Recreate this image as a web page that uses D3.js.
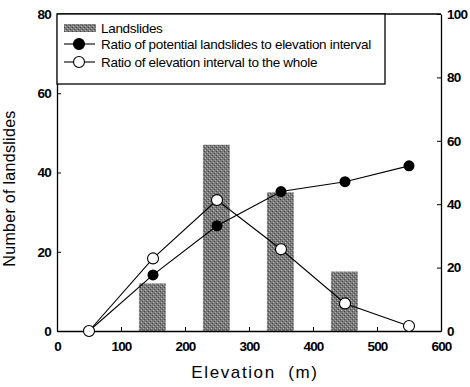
<!DOCTYPE html>
<html>
<head>
<meta charset="utf-8">
<script src="https://cdn.jsdelivr.net/npm/d3@7"></script>
<style>
	body { margin: 0; background: #fff; }
	text { font-family: "Liberation Sans", Arial, sans-serif; }
	.tick text { font-size: 13.5px; font-weight: bold; letter-spacing: -0.8px; }
</style>
</head>
<body>
<script>
const elevations = [150, 250, 350, 450]
const landslides = [12, 47, 35, 15]

const ratioX = [50, 150, 250, 350, 450, 550]
const ratioPotential = [0, 17.7, 33.2, 44, 47.1, 52.1]
const ratioElevation = [0, 22.9, 41.3, 25.8, 8.7, 1.6]

const xTicks = [0, 100, 200, 300, 400, 500, 600]
const leftTicks = [0, 20, 40, 60, 80]
const rightTicks = [0, 20, 40, 60, 80, 100]

const legendLabels = [
	'Landslides',
	'Ratio of potential landslides to elevation interval',
	'Ratio of elevation interval to the whole'
]

const margin = {top: 14, right: 29, bottom: 56, left: 57}
const W = 470, H = 387
const width = W - margin.left - margin.right
const height = H - margin.top - margin.bottom

const root = d3.select('body').append('svg')
	.attr('width', W)
	.attr('height', H)

// grainy grey fill like the printed bars
const defs = root.append('defs')
const pat = defs.append('pattern')
	.attr('id', 'dots')
	.attr('width', 4).attr('height', 4)
	.attr('patternUnits', 'userSpaceOnUse')
pat.append('rect').attr('width', 4).attr('height', 4).attr('fill', '#7a7a7a')
pat.append('rect').attr('x', 0).attr('y', 0).attr('width', 1).attr('height', 1).attr('fill', '#bdbdbd')
pat.append('rect').attr('x', 2).attr('y', 2).attr('width', 1).attr('height', 1).attr('fill', '#b0b0b0')
pat.append('rect').attr('x', 3).attr('y', 1).attr('width', 1).attr('height', 1).attr('fill', '#444')
pat.append('rect').attr('x', 1).attr('y', 3).attr('width', 1).attr('height', 1).attr('fill', '#4a4a4a')

const svg = root.append('g')
	.attr('transform', `translate(${margin.left},${margin.top})`)

const x = d3.scaleLinear().domain([0, 600]).range([0, width])
const yL = d3.scaleLinear().domain([0, 80]).range([height, 0])
const yR = d3.scaleLinear().domain([0, 100]).range([height, 0])

const barW = 42

// bars
svg.selectAll('.bar').data(landslides)
	.enter().append('rect')
		.attr('class', 'bar')
		.attr('x', (d, i) => x(elevations[i] - barW / 2 - 1))
		.attr('width', x(barW) - x(0))
		.attr('y', d => yL(d))
		.attr('height', d => height - yL(d))
		.attr('fill', 'url(#dots)')

// axes
svg.append('g')
	.attr('transform', `translate(0,${height})`)
	.call(d3.axisBottom(x).tickValues(xTicks).tickSizeInner(-4).tickSizeOuter(0).tickPadding(10))

svg.append('g')
	.call(d3.axisLeft(yL).tickValues(leftTicks).tickSizeInner(-4).tickSizeOuter(0).tickPadding(6))

svg.append('g')
	.attr('transform', `translate(${width},0)`)
	.call(d3.axisRight(yR).tickValues(rightTicks).tickSizeInner(-4).tickSizeOuter(0).tickPadding(6))

svg.selectAll('.domain').attr('stroke', '#000').attr('stroke-width', 1.3)

// top frame line
svg.append('line')
	.attr('x1', 0).attr('x2', width)
	.attr('y1', 0).attr('y2', 0)
	.attr('stroke', '#000').attr('stroke-width', 1.3)

// lines
const line = yScale => d3.line()
	.x((d, i) => x(ratioX[i]))
	.y(d => yScale(d))

svg.append('path')
	.datum(ratioPotential)
	.attr('d', line(yR))
	.attr('fill', 'none').attr('stroke', '#000').attr('stroke-width', 1.1)

svg.append('path')
	.datum(ratioElevation)
	.attr('d', line(yR))
	.attr('fill', 'none').attr('stroke', '#000').attr('stroke-width', 1.1)

svg.selectAll('.pf').data(ratioPotential)
	.enter().append('circle')
		.attr('cx', (d, i) => x(ratioX[i]))
		.attr('cy', d => yR(d))
		.attr('r', 5.5)
		.attr('fill', '#000')

svg.selectAll('.po').data(ratioElevation)
	.enter().append('circle')
		.attr('cx', (d, i) => x(ratioX[i]))
		.attr('cy', d => yR(d))
		.attr('r', 5.5)
		.attr('fill', '#fff').attr('stroke', '#000').attr('stroke-width', 1.1)

// legend
const lg = svg.append('g')
lg.append('rect')
	.attr('x', 0).attr('y', 0)
	.attr('width', 328).attr('height', 70)
	.attr('fill', '#fff').attr('stroke', '#000').attr('stroke-width', 1.3)

lg.append('rect')
	.attr('x', 7).attr('y', 10)
	.attr('width', 32).attr('height', 8)
	.attr('fill', 'url(#dots)')

const rowY = [14, 30, 48]
rowY.forEach((ry, i) => {
	if (i > 0) {
		lg.append('line')
			.attr('x1', 7).attr('x2', 38)
			.attr('y1', ry).attr('y2', ry)
			.attr('stroke', '#000').attr('stroke-width', 1.1)
		lg.append('circle')
			.attr('cx', 22).attr('cy', ry).attr('r', 5.5)
			.attr('fill', i === 1 ? '#000' : '#fff')
			.attr('stroke', '#000').attr('stroke-width', 1.1)
	}
	lg.append('text')
		.attr('x', 44).attr('y', ry + 5)
		.attr('font-size', 13.5)
		.attr('letter-spacing', '-0.3px')
		.text(legendLabels[i])
})

// axis titles
svg.append('text')
	.attr('x', width / 2 + 6).attr('y', height + 47)
	.attr('text-anchor', 'middle')
	.attr('font-size', 17)
	.attr('letter-spacing', '1.6px')
	.style('white-space', 'pre')
	.text('Elevation  (m)')

svg.append('text')
	.attr('transform', `translate(${-42},${height / 2 + 16}) rotate(-90)`)
	.attr('text-anchor', 'middle')
	.attr('font-size', 16)
	.attr('letter-spacing', '0.3px')
	.text('Number of landslides')
</script>
</body>
</html>
